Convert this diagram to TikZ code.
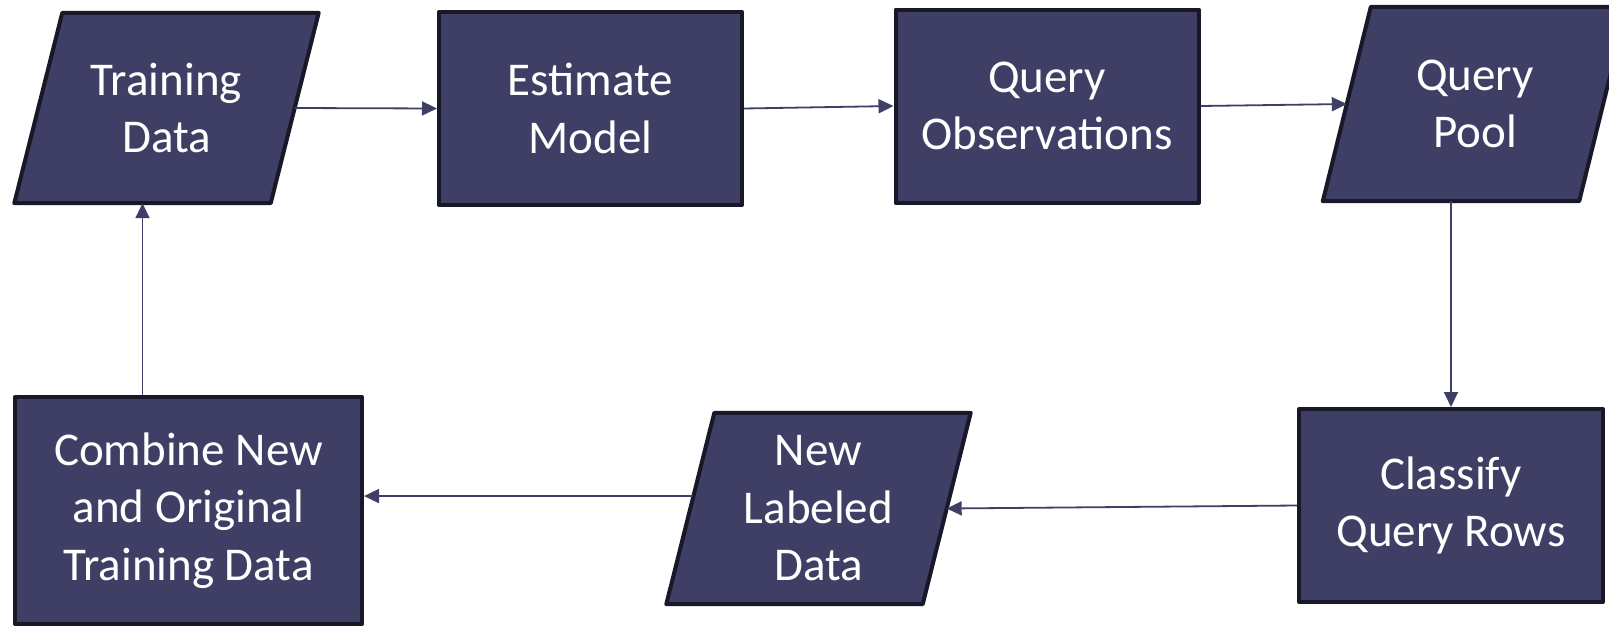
\documentclass[tikz,border=0pt]{standalone}
\usepackage{fontspec}
\setmainfont{Carlito}
\usetikzlibrary{arrows.meta,calc,backgrounds}
\definecolor{boxfill}{RGB}{63,63,102}
\definecolor{boxline}{RGB}{24,24,40}
\definecolor{linkcol}{RGB}{63,63,102}
\tikzset{
  frame/.style={draw=boxline, fill=boxfill, line width=4pt, line join=round},
  label/.style={text=white, align=center, inner sep=0pt,
    font=\fontsize{47}{57.5}\selectfont},
  procbox/.style={frame, label, rectangle, minimum width=303pt, minimum height=193pt},
  % text area of a data shape; the slanted outline is drawn behind it
  databody/.style={label, rectangle, minimum width=256pt, minimum height=191pt},
  link/.style={draw=linkcol, line width=1.8pt,
    -{Triangle[length=15pt,width=14pt]}}
}
% parallelogram outline around a databody node, leaning right by #2
\newcommand{\slantframe}[2]{%
  \draw[frame] ($(#1.north west)+(#2/2,0)$) -- ($(#1.north east)+(#2/2,0)$)
    -- ($(#1.south east)-(#2/2,0)$) -- ($(#1.south west)-(#2/2,0)$) -- cycle;}
\begin{document}
\begin{tikzpicture}[x=1pt,y=-1pt]
\clip (0,0) rectangle (1609,627);

% top row
\node[databody, minimum height=190pt] (td) at (166.5,108) {Training\\Data};
\node[procbox] (em) at (590.5,108.5) {Estimate\\Model};
\node[procbox] (qo) at (1047,106) {Query\\Observations};
\node[databody, minimum height=194pt] (qp) at (1475,104) {Query\\Pool};

% bottom row
\node[procbox, minimum width=304pt] (cq) at (1451,505.5) {Classify\\Query Rows};
\node[databody] (nl) at (818.5,508.5) {New\\Labeled\\Data};
\node[procbox, minimum width=347pt, minimum height=227pt] (cn) at (188.5,510.5) {Combine New\\and Original\\Training Data};

\begin{pgfonlayer}{background}
  \fill[white] (0,0) rectangle (1609,627);
  \slantframe{td}{48}
  \slantframe{qp}{48}
  \slantframe{nl}{48}
\end{pgfonlayer}

% mid points of the lower edges of the data shapes
\coordinate (tdbot) at ($(td.south)-(24,0)$);
\coordinate (qpbot) at ($(qp.south)-(24,0)$);
\coordinate (nlout) at ($($(nl.north west)+(24,0)$)!0.435!($(nl.south west)-(24,0)$)$);

% connectors
\draw[link] (td.east) -- (em.west);
\draw[link] (em.east) -- (qo.west);
\draw[link] (qo.east) -- (qp.west);
\draw[link] (qpbot) -- (qpbot |- cq.north);
\draw[link] (cq.west) -- (nl.east);
\draw[link] (nlout) -- (nlout -| cn.east);
\draw[link] (tdbot |- cn.north) -- (tdbot);
\end{tikzpicture}
\end{document}
